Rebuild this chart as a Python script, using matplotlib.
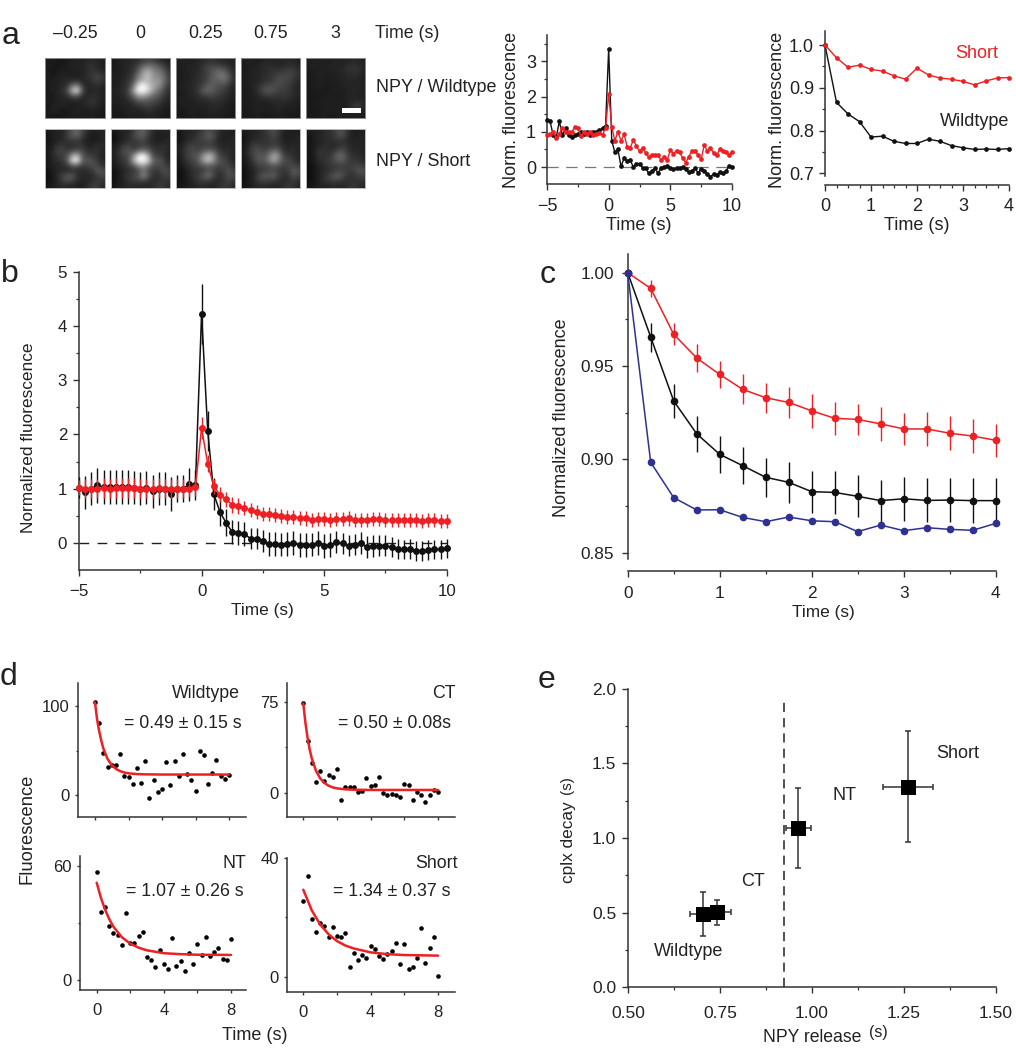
import numpy as np
import matplotlib
matplotlib.use("Agg")
import matplotlib.pyplot as plt
from matplotlib.patches import Rectangle

plt.rcParams['font.family'] = ['Liberation Sans', 'DejaVu Sans']
plt.rcParams['axes.unicode_minus'] = True

W, H = 1016, 1050
RED = '#ed2024'
BLUE = '#2e3192'
BLACK = '#111111'
AXC = '#333333'
TXT = '#222222'

# ---------- panel a: image tiles (coarse grey levels)
tile_times = ['\u20130.25', '0', '0.25', '0.75', '3']
tiles_wt = [
    [[10,12,10,8,10,12,14,12,16,16,14,12],[12,10,8,10,12,14,14,14,18,20,16,12],[10,8,10,12,10,12,14,12,18,20,18,14],
     [12,10,12,14,14,12,12,14,18,22,26,20],[10,12,14,14,16,16,16,14,16,20,26,20],[12,12,12,16,20,42,50,22,14,16,18,14],
     [10,12,14,18,30,75,90,30,14,14,16,12],[10,10,14,16,18,34,36,18,14,18,16,14],[12,10,12,14,14,14,14,14,18,20,18,12],
     [8,12,14,14,12,12,12,14,16,18,14,12],[10,14,12,10,10,12,14,12,10,14,12,10],[10,10,8,10,10,12,12,10,12,12,10,10]],
    [[10,12,14,14,16,18,24,26,24,18,14,12],[10,12,14,16,18,26,38,44,40,34,24,16],[10,12,14,16,20,36,58,66,52,46,36,20],
     [12,12,14,18,26,48,66,76,56,52,44,24],[12,12,16,20,30,58,70,72,60,60,46,26],[12,14,16,22,44,88,100,80,66,58,40,22],
     [14,14,18,26,62,100,100,84,60,44,30,18],[12,14,16,24,40,64,66,52,42,34,24,16],[12,12,14,18,24,34,36,34,30,26,18,14],
     [10,12,14,14,16,20,24,26,22,18,14,12],[10,10,12,14,14,14,16,18,16,14,12,10],[10,10,10,12,12,12,12,14,14,12,10,10]],
    [[12,14,12,12,14,16,18,20,16,14,14,12],[12,12,14,14,16,20,26,26,24,22,18,14],[10,12,14,14,16,22,28,34,40,36,26,16],
     [12,12,12,14,18,22,26,36,44,46,36,18],[10,12,14,16,18,22,30,38,36,44,34,18],[12,14,14,16,20,26,36,36,30,30,22,14],
     [10,12,14,16,24,36,40,34,28,24,18,14],[10,12,14,14,18,24,26,26,22,20,16,12],[12,14,12,14,14,16,18,20,18,16,14,12],
     [10,12,12,12,14,14,14,16,16,14,12,10],[10,10,12,14,12,12,14,16,14,12,12,10],[10,10,10,12,10,12,12,12,12,12,10,10]],
    [[12,14,12,10,14,14,14,14,14,16,14,12],[10,12,12,14,16,18,16,14,16,18,18,14],[10,12,14,14,16,18,20,20,22,24,24,18],
     [12,12,14,14,18,18,22,26,28,28,24,18],[10,12,14,14,18,20,24,30,28,26,22,16],[12,12,14,18,24,28,30,28,26,22,18,14],
     [10,12,14,20,30,34,30,26,24,22,16,14],[10,12,12,16,20,24,22,20,22,20,18,14],[12,10,12,14,14,14,16,16,18,16,14,12],
     [10,12,12,12,12,12,14,16,14,12,14,10],[10,10,12,14,12,12,12,14,12,12,12,10],[10,10,10,12,10,10,12,12,12,10,10,10]],
    [[12,12,14,12,12,14,14,14,14,16,14,12],[12,14,12,12,14,14,14,14,18,20,18,14],[10,12,12,14,12,14,14,16,20,18,20,14],
     [10,12,14,12,12,12,14,14,16,18,16,12],[10,10,12,12,12,12,12,14,16,14,14,12],[10,12,12,12,10,12,12,14,14,14,16,12],
     [10,10,12,10,10,12,12,12,14,16,14,12],[10,10,10,10,12,12,10,12,14,14,14,12],[10,10,10,12,12,12,12,12,14,14,16,14],
     [10,10,12,12,12,12,12,12,14,22,26,14],[10,10,10,12,12,12,12,12,12,16,16,12],[10,10,10,12,10,10,12,12,12,12,12,10]],
]
tiles_short = [
    [[10,12,14,14,22,36,40,28,16,14,14,14],[8,12,14,14,26,34,38,24,14,10,12,14],[8,10,14,16,20,22,24,16,12,10,12,14],
     [10,12,20,22,16,18,20,20,14,14,18,16],[10,14,26,26,22,26,30,28,18,18,20,14],[10,16,22,24,30,64,70,34,24,22,18,14],
     [8,14,18,22,36,90,95,36,34,32,22,14],[10,14,14,18,22,36,34,24,26,30,28,18],[6,10,14,16,14,18,16,16,18,22,36,30],
     [6,10,16,26,34,34,20,16,16,16,24,28],[6,10,14,24,30,26,16,14,14,18,22,20],[8,12,14,16,14,14,12,12,18,24,24,16]],
    [[10,12,14,14,22,34,38,26,16,14,14,14],[6,10,14,16,26,34,36,24,14,12,12,14],[6,10,14,18,22,26,28,18,14,12,14,14],
     [10,14,22,26,20,22,24,22,16,16,18,16],[12,18,30,32,26,36,44,36,22,18,20,14],[12,18,26,30,52,90,100,64,28,24,20,14],
     [10,16,22,28,66,100,100,84,36,34,26,16],[10,14,18,24,34,56,64,46,30,30,28,20],[6,10,14,18,20,28,44,30,22,22,32,26],
     [6,10,16,22,26,34,56,34,20,18,24,26],[6,10,14,20,24,24,28,20,16,18,22,20],[8,12,14,16,16,14,16,14,18,22,22,16]],
    [[10,12,14,14,18,24,30,26,18,14,14,12],[6,12,16,16,24,28,36,30,18,12,12,14],[8,12,16,18,24,24,30,24,14,12,14,14],
     [10,16,24,26,22,24,24,22,18,14,16,14],[12,18,26,28,26,32,38,34,24,16,18,14],[10,18,26,30,36,56,74,60,28,24,18,14],
     [8,16,22,28,36,62,78,58,34,28,22,14],[8,12,18,24,28,34,36,34,28,28,26,18],[6,8,14,18,20,24,32,26,20,24,32,24],
     [6,8,14,20,24,34,44,28,18,20,32,28],[6,8,12,16,22,24,24,18,16,20,26,22],[8,10,12,14,16,16,14,14,18,22,22,16]],
    [[12,12,14,14,18,26,30,24,14,12,12,12],[8,12,14,16,18,22,28,22,12,12,12,14],[8,12,16,18,20,20,24,20,14,12,14,14],
     [10,16,24,24,20,22,24,22,16,14,16,14],[10,18,28,30,26,30,40,36,20,16,18,14],[10,18,26,34,32,44,66,56,26,22,18,14],
     [8,14,22,36,32,46,66,50,30,28,22,16],[8,12,18,26,26,30,34,30,26,26,28,22],[6,10,14,20,24,26,28,24,20,24,36,30],
     [6,10,14,26,34,34,38,26,18,20,32,26],[6,10,14,24,26,24,24,18,16,18,22,18],[8,10,14,16,16,16,14,14,18,22,20,14]],
    [[12,12,14,16,18,22,30,30,18,12,12,12],[8,12,14,16,18,20,30,30,16,12,12,14],[8,10,14,14,18,18,20,18,14,14,14,14],
     [8,10,14,18,16,16,18,22,18,14,14,14],[8,12,18,20,18,20,28,28,20,16,16,14],[8,10,20,18,20,26,42,38,22,18,16,14],
     [8,10,16,20,22,28,36,34,24,22,20,16],[6,8,14,16,20,22,24,24,24,26,26,22],[6,8,12,16,18,22,26,26,22,24,34,30],
     [6,8,12,18,24,32,38,28,20,20,24,26],[6,8,12,18,22,24,24,20,18,20,20,20],[8,10,12,14,14,16,14,16,18,22,18,14]],
]

# ---------- panel a: single traces
a_long_t = [-5 + 0.25 * i for i in range(61)]
a_long_black = [1.35,1.3,0.9,0.85,1.3,0.9,1.1,0.9,0.85,0.9,0.95,1.0,0.95,1.0,0.9,1.0,1.0,1.05,1.1,1.18,
                3.35,0.75,0.42,0.5,0.02,0.25,0.18,0.2,0.0,0.1,0.1,-0.02,-0.03,-0.18,-0.12,-0.02,-0.18,-0.02,0.0,0.02,
                -0.02,-0.05,-0.02,-0.02,-0.01,-0.05,-0.15,-0.1,-0.03,-0.17,-0.05,-0.1,-0.2,-0.27,-0.2,-0.22,-0.15,-0.17,-0.12,0.03,0.0]
a_long_red = [0.9,0.93,1.0,0.82,0.95,1.12,1.0,1.0,1.0,1.13,1.1,0.88,1.0,0.95,1.0,0.9,0.95,0.97,0.92,1.1,
              2.08,1.15,0.75,1.0,0.75,0.93,0.58,0.55,0.77,0.6,0.45,0.55,0.4,0.28,0.35,0.33,0.33,0.2,0.3,0.2,
              0.48,0.38,0.47,0.43,0.25,0.13,0.3,0.45,0.45,0.35,0.22,0.63,0.45,0.55,0.4,0.33,0.5,0.47,0.42,0.35,0.43]
a_short_t = [0.25 * i for i in range(17)]
a_short_black = [1.0,0.866,0.839,0.821,0.785,0.787,0.775,0.77,0.77,0.78,0.775,0.765,0.76,0.756,0.757,0.756,0.758]
a_short_red = [1.0,0.97,0.948,0.953,0.943,0.939,0.928,0.92,0.946,0.93,0.923,0.92,0.915,0.907,0.916,0.923,0.924]

# ---------- panel b
b_t = [-5 + 0.25 * i for i in range(61)]
b_black = [1.02,0.93,1.0,1.06,1.03,1.03,1.03,1.03,1.03,1.02,1.0,1.02,0.95,1.0,1.0,0.9,1.0,1.0,1.08,1.07,
           4.22,2.07,0.9,0.57,0.37,0.2,0.18,0.16,0.08,0.08,0.03,-0.02,-0.02,-0.03,-0.02,-0.01,-0.04,-0.04,-0.03,-0.01,
           -0.05,-0.04,0.01,-0.01,-0.05,-0.03,0.0,-0.08,-0.06,-0.05,-0.05,-0.08,-0.11,-0.12,-0.11,-0.15,-0.15,-0.13,-0.12,-0.12,-0.1]
b_black_err = [0.2,0.3,0.3,0.32,0.32,0.32,0.32,0.32,0.32,0.3,0.3,0.3,0.3,0.3,0.3,0.32,0.25,0.25,0.3,0.28,
               0.56,0.37,0.3,0.25,0.25,0.22,0.22,0.22,0.2,0.2,0.2,0.22,0.22,0.22,0.22,0.22,0.22,0.22,0.22,0.22,
               0.22,0.22,0.2,0.2,0.2,0.2,0.2,0.2,0.2,0.2,0.2,0.18,0.18,0.18,0.18,0.18,0.18,0.18,0.18,0.18,0.18]
b_red = [1.02,1.0,1.0,1.0,1.01,1.0,1.01,1.01,1.01,1.01,1.0,1.0,1.0,1.01,1.0,1.0,1.0,1.0,1.0,1.03,
         2.12,1.46,1.04,0.89,0.8,0.7,0.68,0.65,0.6,0.57,0.54,0.53,0.52,0.5,0.48,0.48,0.46,0.45,0.42,0.44,
         0.44,0.43,0.44,0.44,0.45,0.43,0.43,0.43,0.44,0.44,0.42,0.42,0.42,0.42,0.43,0.42,0.41,0.42,0.42,0.41,0.41]
b_red_err = [0.14,0.18,0.18,0.18,0.18,0.18,0.18,0.18,0.18,0.18,0.18,0.18,0.18,0.18,0.18,0.18,0.18,0.18,0.16,0.16,
             0.2,0.16,0.14,0.14,0.14,0.14,0.14,0.13,0.13,0.13,0.13,0.13,0.13,0.13,0.13,0.13,0.13,0.13,0.13,0.13,
             0.13,0.13,0.13,0.13,0.13,0.13,0.13,0.13,0.13,0.13,0.13,0.13,0.13,0.13,0.13,0.13,0.13,0.13,0.13,0.13,0.13]

# ---------- panel c
c_t = [0.25 * i for i in range(17)]
c_red = [1.0,0.9916,0.967,0.9543,0.9455,0.9375,0.933,0.9305,0.926,0.922,0.9214,0.919,0.9163,0.9163,0.914,0.9125,0.9102]
c_red_err = [0,0.0045,0.006,0.0073,0.0073,0.008,0.008,0.0082,0.009,0.0087,0.0085,0.009,0.0088,0.0089,0.009,0.009,0.0088]
c_black = [1.0,0.9655,0.9313,0.9137,0.9027,0.8966,0.8904,0.8877,0.8827,0.8823,0.8802,0.8779,0.8789,0.878,0.8782,0.8779,0.8779]
c_black_err = [0,0.0078,0.0089,0.0098,0.01,0.01,0.0104,0.0109,0.0112,0.0115,0.0113,0.0113,0.0118,0.0118,0.0118,0.0119,0.0119]
c_blue = [1.0,0.8984,0.8795,0.8729,0.873,0.8689,0.8666,0.8691,0.8671,0.8666,0.8613,0.8648,0.8618,0.8634,0.8625,0.862,0.8657]

# ---------- panel d
d_t = [0.25 * i for i in range(33)]
d_wt = [104,81,47.6,32,33.7,34,46,21,19.9,12,30.7,14,38.6,-3.7,16.5,3,7,37,10.9,38.6,21.7,46,24,16.5,4,49.4,45,12.4,25,38.9,21.7,18,23]
d_ct = [73.6,42.4,24.6,9,18,9.9,14.8,12.9,19.7,-5.5,4.7,4.9,4.7,1.1,1.6,12,6,6.8,12.9,0.3,-1.9,-0.5,-1.6,-3.6,7.1,6.3,-5.7,0.8,-1.4,-7.4,-1.4,2.5,0.8]
d_nt = [56.7,35.6,38.4,28.6,24.9,23.7,18.2,35.1,19.6,19.6,23.2,25.3,11.9,10.7,6.7,15.8,8.2,5.6,21.9,7.4,9.8,4.9,14.4,8.6,19.1,13.2,22.8,12.6,14.9,16.8,11.2,10.5,21.6]
d_short = [25.6,33.8,19.4,15.1,18,17,13.3,16.7,13.6,13.5,14.6,3.4,8.1,5.6,7.3,6.3,10.5,9.5,7,6,7.7,8.7,11.5,4.4,10.9,2.6,3.2,6.4,16.3,4.6,9.6,13.4,0.1]

fit_wt_t = [0,0.125,0.25,0.375,0.5,0.75,1,1.25,1.5,1.75,2,2.5,3,4,8]
fit_wt = [104,85,71.6,61,52.2,40.5,33.5,29.3,26.8,25.3,24.4,23.5,23.2,23,23]
fit_ct_t = [0,0.125,0.25,0.375,0.5,0.75,1,1.25,1.5,1.75,2,2.5,3,4,8]
fit_ct = [73.5,57.8,45.6,36,28.6,18.3,12.1,8.3,6,4.6,3.8,3,2.7,2.5,2.5]
fit_nt_t = [0,0.25,0.5,0.75,1,1.5,2,2.5,3,4,5,6,8]
fit_nt = [51.2,43.3,37,32,28,22.5,19.1,17,15.6,14.1,13.6,13.3,13.2]
fit_short_t = [0,0.5,1,1.5,2,2.5,3,4,5,6,8]
fit_short = [29.3,22.4,17.6,14.3,12,10.5,9.5,8.2,7.6,7.3,7.1]

# ---------- panel e
e_names = ['Wildtype', 'CT', 'NT', 'Short']
e_x = [0.703, 0.743, 0.963, 1.26]
e_y = [0.489, 0.504, 1.067, 1.344]
e_xerr = [0.035, 0.036, 0.034, 0.068]
e_yerr = [0.147, 0.084, 0.265, 0.374]

fig = plt.figure(figsize=(W / 100, H / 100), dpi=100)


# axes and text are placed in picture pixels, y going down
def add_axes_px(left, top, right, bottom):
    return fig.add_axes([left / W, 1 - bottom / H, (right - left) / W, (bottom - top) / H])


def put(x, y, s, size=12, color=TXT, ha='center', va='center', **kw):
    fig.text(x / W, 1 - y / H, s, fontsize=size, color=color, ha=ha, va=va, **kw)


def style(ax, size=12, xpad=4, ypad=3.5, major=4.5, minor=2.5):
    for s in ['top', 'right']:
        ax.spines[s].set_visible(False)
    for s in ['left', 'bottom']:
        ax.spines[s].set_color(AXC)
        ax.spines[s].set_linewidth(1.1)
    ax.tick_params(which='major', length=major, width=1, color=AXC, labelsize=size, labelcolor=TXT)
    ax.tick_params(which='minor', length=minor, width=0.9, color=AXC)
    ax.tick_params(axis='x', which='major', pad=xpad)
    ax.tick_params(axis='y', which='major', pad=ypad)
    ax.patch.set_alpha(0)


def trace(ax, x, y, color, ms=3.4, lw=1.0, yerr=None, z=3):
    if yerr is not None:
        ax.errorbar(x, y, yerr=yerr, fmt='none', ecolor=color, elinewidth=1.0, zorder=z, clip_on=False)
    ax.plot(x, y, '-o', color=color, ms=ms, lw=lw, mew=0, zorder=z + 0.5, clip_on=False)


# panel a images
col_left = [45.3, 110.7, 175.7, 240.7, 305.7]
for i, lab in enumerate(tile_times):
    for top, data, edge in [(58.3, tiles_wt[i], '#8a8a8a'), (129, tiles_short[i], '#bbbbbb')]:
        ax = add_axes_px(col_left[i], top, col_left[i] + 59.5, top + 59.3)
        ax.imshow(np.array(data), cmap='gray', vmin=0, vmax=100, interpolation='bicubic', aspect='auto')
        ax.set_xticks([])
        ax.set_yticks([])
        for s in ax.spines.values():
            s.set_color(edge)
            s.set_linewidth(0.7)
    put(col_left[i] + 29.7, 34, lab, size=12.8)
fig.patches.append(Rectangle((341.7 / W, 1 - 113.3 / H), 19 / W, 5.6 / H, transform=fig.transFigure,
                             facecolor='white', edgecolor='none', figure=fig, zorder=5))
put(375, 34, 'Time (s)', size=12.8, ha='left')
put(376, 88, 'NPY / Wildtype', size=12.9, ha='left')
put(376, 162, 'NPY / Short', size=12.9, ha='left')

# panel a long trace
ax = add_axes_px(547, 35, 732, 184)
style(ax, size=13, xpad=5.5)
ax.plot([-5, 10], [0, 0], color='#777777', lw=0.9, dashes=(9, 6), zorder=1)
trace(ax, a_long_t, a_long_black, BLACK)
trace(ax, a_long_t, a_long_red, RED)
ax.set_xlim(-5, 10)
ax.set_ylim(-0.48, 3.75)
ax.set_xticks([-5, 0, 5, 10])
ax.set_xticks([-2.5, 2.5, 7.5], minor=True)
ax.set_yticks([0, 1, 2, 3])
ax.set_yticks([0.5, 1.5, 2.5, 3.5], minor=True)
put(512, 110, 'Norm. fluorescence', size=13, rotation=90)
put(639, 225, 'Time (s)', size=13)

# panel a short trace
ax = add_axes_px(825, 31, 1009, 185)
style(ax, size=13, xpad=5)
trace(ax, a_short_t, a_short_black, BLACK)
trace(ax, a_short_t, a_short_red, RED)
ax.set_xlim(0, 4)
ax.set_ylim(0.673, 1.0327)
ax.spines['left'].set_bounds(0.694, 1.0327)
ax.set_xticks([0, 1, 2, 3, 4])
ax.set_xticks([0.25 * i for i in range(17) if i % 4], minor=True)
ax.set_yticks([0.7, 0.8, 0.9, 1.0])
ax.set_yticks([0.75, 0.85, 0.95], minor=True)
put(778, 110, 'Norm. fluorescence', size=13, rotation=90)
put(917, 225, 'Time (s)', size=13)
put(977, 54, 'Short', size=13, color=RED)
put(975, 122, 'Wildtype', size=13)

# panel b
ax = add_axes_px(79, 271.7, 446.7, 570)
style(ax, size=12.2, xpad=5.5, ypad=4)
ax.plot([-5, 10], [0, 0], color='#222222', lw=1, dashes=(7, 6), zorder=1)
trace(ax, b_t, b_black, BLACK, ms=5, lw=1.1, yerr=b_black_err, z=3)
trace(ax, b_t, b_red, RED, ms=5, lw=1.1, yerr=b_red_err, z=4)
ax.set_xlim(-5, 10)
ax.set_ylim(-0.5, 5)
ax.set_xticks([-5, 0, 5, 10])
ax.set_xticks([-2.5, 2.5, 7.5], minor=True)
ax.set_yticks([0, 1, 2, 3, 4, 5])
ax.set_yticks([0.5 + i for i in range(5)], minor=True)
put(29, 438, 'Normalized fluorescence', size=12.4, rotation=90)
put(262, 611, 'Time (s)', size=12.4)

# panel c
ax = add_axes_px(627.7, 254, 995.7, 571)
style(ax, size=12.4, xpad=6.5, ypad=5.5)
trace(ax, c_t, c_red, RED, ms=5.5, lw=1.1, yerr=c_red_err, z=3)
trace(ax, c_t, c_black, BLACK, ms=5.5, lw=1.1, yerr=c_black_err, z=4)
trace(ax, c_t, c_blue, BLUE, ms=5.5, lw=1.1, z=5)
ax.set_xlim(0, 4)
ax.set_ylim(0.85 - 18.3 / 1866.7, 1.0 + 18.7 / 1866.7)
ax.spines['left'].set_bounds(0.85 - 6.3 / 1866.7, 1.0 + 18.7 / 1866.7)
ax.set_xticks([0, 1, 2, 3, 4])
ax.set_xticks([0.5, 1.5, 2.5, 3.5], minor=True)
ax.set_yticks([0.85, 0.90, 0.95, 1.00])
ax.set_yticklabels(['0.85', '0.90', '0.95', '1.00'])
ax.set_yticks([0.875, 0.925, 0.975], minor=True)
put(562, 418, 'Normalized fluorescence', size=13, rotation=90)
put(823, 612, 'Time (s)', size=12.4)

# panel d
d_panels = [
    (77.7, 683, 246, 817, 95, 229, 706, 795, 100, d_wt, fit_wt_t, fit_wt, False),
    (287, 683, 455, 816.7, 303.3, 438, 701.7, 793, 75, d_ct, fit_ct_t, fit_ct, False),
    (80, 856, 246, 990, 96.7, 231, 866, 980, 60, d_nt, fit_nt_t, fit_nt, True),
    (287, 858, 455, 991.7, 303.3, 438, 858, 976.7, 40, d_short, fit_short_t, fit_short, True),
]
for left, top, right, bottom, x0, x8, ytop, y0, ymax, pts, ft, fv, show_x in d_panels:
    ax = add_axes_px(left, top, right, bottom)
    style(ax, size=12, xpad=7, ypad=3.5, major=2.5, minor=1.8)
    ax.plot(d_t, pts, 'o', color='#000000', ms=3.3, mew=0, zorder=3, clip_on=False)
    ax.plot(ft, fv, color=RED, lw=1.8, zorder=4, solid_capstyle='round')
    per_x = (x8 - x0) / 8
    ax.set_xlim((left - x0) / per_x, (right - x0) / per_x)
    per_y = (y0 - ytop) / ymax
    ax.set_ylim((y0 - bottom) / per_y, (y0 - top) / per_y)
    ax.set_xticks([0, 4, 8])
    ax.set_xticks([2, 6], minor=True)
    ax.set_yticks([0, ymax])
    ax.set_yticks([ymax / 2], minor=True)
    if not show_x:
        ax.set_xticklabels([])

put(240, 693, 'Wildtype', size=12.8, ha='right')
put(124, 724, '= 0.49 \u00b1 0.15 s', size=12.8, ha='left')
put(456, 693, 'CT', size=12.8, ha='right')
put(338, 724, '= 0.50 \u00b1 0.08s', size=12.8, ha='left')
put(246, 863, 'NT', size=12.8, ha='right')
put(126, 892, '= 1.07 \u00b1 0.26 s', size=12.8, ha='left')
put(458, 863, 'Short', size=12.8, ha='right')
put(333, 892, '= 1.34 \u00b1 0.37 s', size=12.8, ha='left')
put(27, 829, 'Fluorescence', size=13.2, rotation=90)
put(255, 1035, 'Time (s)', size=13)

# panel e
ax = add_axes_px(628, 688.7, 996, 987.3)
style(ax, size=12.5, xpad=9, ypad=4)
ax.plot([0.925, 0.925], [0, 1.935], color='#222222', lw=1.1, dashes=(6, 4), zorder=1)
ax.errorbar(e_x, e_y, xerr=e_xerr, yerr=e_yerr, fmt='none', ecolor='#333333', elinewidth=1.1,
            capsize=2.4, capthick=1.1, zorder=2)
ax.plot(e_x, e_y, 's', color='#000000', ms=10.8, mew=0, zorder=3)
ax.set_xlim(0.5, 1.5)
ax.set_ylim(0, 2)
ax.set_xticks([0.5, 0.75, 1.0, 1.25, 1.5])
ax.set_xticklabels(['0.50', '0.75', '1.00', '1.25', '1.50'])
ax.set_xticks([0.625, 0.875, 1.125, 1.375], minor=True)
ax.set_yticks([0, 0.5, 1.0, 1.5, 2.0])
ax.set_yticklabels(['0.0', '0.5', '1.0', '1.5', '2.0'])
ax.set_yticks([0.25, 0.75, 1.25, 1.75], minor=True)
put(568, 842.5, 'cplx decay', size=12.4, rotation=90)
put(567, 785, '(s)', size=11, rotation=90)
put(812, 1038, 'NPY release', size=12.7)
put(878, 1033, '(s)', size=11.5)
put(689, 952, e_names[0], size=13)
put(753, 881, e_names[1], size=13)
put(844, 796, e_names[2], size=13)
put(958, 753, e_names[3], size=13)

# panel letters
for x, y, s in [(2, 44, 'a'), (1, 282, 'b'), (540, 283, 'c'), (0, 685, 'd'), (538, 688, 'e')]:
    put(x, y, s, size=23, ha='left', va='baseline')

fig.savefig('out.png', dpi=100)
